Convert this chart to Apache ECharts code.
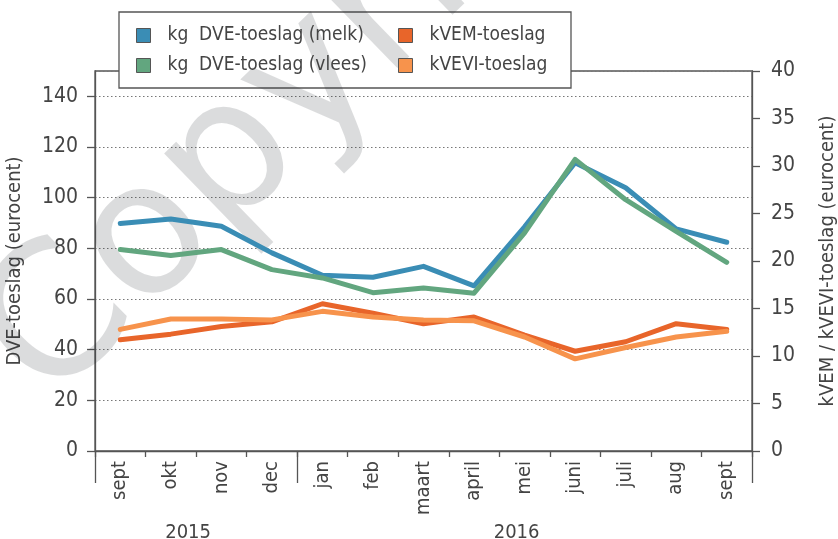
<!DOCTYPE html>
<html>
<head>
<meta charset="utf-8">
<script src="https://cdn.jsdelivr.net/npm/echarts@6/dist/echarts.min.js"></script>
<style>
  html, body { margin: 0; padding: 0; background: #fff; }
  #chart { width: 838px; height: 539px; }
</style>
</head>
<body>
<div id="chart"></div>
<script>
// maanden sept 2015 - sept 2016
var months = ['sept', 'okt', 'nov', 'dec', 'jan', 'feb', 'maart', 'april', 'mei', 'juni', 'juli', 'aug', 'sept'];
var years = ['2015', '2016'];
var yearStart = [0, 4, 13];   // index waar een jaar begint (laatste = einde)

var dveMelk  = [89.8, 91.6, 88.7, 78.2, 69.4, 68.6, 72.9, 65.2, 88.5, 113.8, 103.9, 87.7, 82.4];
var dveVlees = [79.5, 77.2, 79.5, 71.6, 68.3, 62.5, 64.3, 62.3, 86.1, 115.1, 99.2, 86.7, 74.5];
var kvem     = [11.7, 12.3, 13.1, 13.6, 15.5, 14.5, 13.4, 14.1, 12.2, 10.5, 11.5, 13.4, 12.8];
var kvevi    = [12.8, 13.9, 13.9, 13.8, 14.7, 14.1, 13.8, 13.7, 12.0, 9.7, 10.9, 12.0, 12.6];

var names = ['kg  DVE-toeslag (melk)', 'kg  DVE-toeslag (vlees)', 'kVEM-toeslag', 'kVEVI-toeslag'];
var colors = ['#3a8db5', '#62a67f', '#e8652a', '#f7934c'];

var font = "'Liberation Sans Narrow', 'DejaVu Sans Condensed', Roboto, sans-serif";
var txt = '#444';
var axisCol = '#555';

var yearMid = [];
for (var i = 0; i < years.length; i++) {
  yearMid.push((yearStart[i] + yearStart[i + 1]) / 2);
}

function line(name, data, color, yIdx) {
  return {
    name: name,
    type: 'line',
    data: data,
    yAxisIndex: yIdx,
    symbol: 'none',
    color: color,
    lineStyle: { width: 5, color: color, cap: 'round', join: 'round' }
  };
}

var chart = echarts.init(document.getElementById('chart'));

var legendBase = {
  orient: 'vertical',
  top: 21,
  icon: 'rect',
  itemWidth: 14,
  itemHeight: 14,
  itemGap: 11,
  itemStyle: { borderColor: axisCol, borderWidth: 1 },
  textStyle: { fontFamily: font, fontSize: 19, color: txt, padding: [0, 0, 0, 12] },
  z: 4
};

var option = {
  animation: false,
  textStyle: { fontFamily: font },
  grid: {
    left: 95, right: 86, top: 71, bottom: 88,
    outerBoundsMode: 'none', containLabel: false,
    show: true, borderColor: axisCol, borderWidth: 1.3, backgroundColor: 'transparent'
  },
  legend: [
    Object.assign({}, legendBase, { left: 131, data: [names[0], names[1]] }),
    Object.assign({}, legendBase, { left: 393, data: [names[2], names[3]] })
  ],
  graphic: [
    {
      type: 'rect', z: 1,
      shape: { x: 119, y: 12, width: 452, height: 76 },
      style: { fill: '#fff', stroke: axisCol, lineWidth: 1.3 }
    },
    {
      type: 'text', z: 1,
      x: 15, y: 372, rotation: 0.77,
      style: {
        text: 'Copyright', fontSize: 185, fontFamily: 'DejaVu Sans',
        fill: 'rgba(30,35,45,0.16)', align: 'left', verticalAlign: 'middle'
      }
    }
  ],
  xAxis: [
    {
      type: 'category',
      data: months,
      boundaryGap: true,
      axisLine: { onZero: false, lineStyle: { color: axisCol, width: 1.3 } },
      axisTick: { show: true, length: 6, interval: 0, lineStyle: { color: axisCol, width: 1.3 } },
      axisLabel: { rotate: 90, margin: 10, interval: 0, fontSize: 20, color: txt, fontFamily: font },
      splitLine: { show: false }
    },
    {
      type: 'value',
      min: 0, max: months.length,
      position: 'bottom',
      axisLine: { show: false, onZero: false },
      axisTick: { show: true, customValues: yearStart, length: 32, lineStyle: { color: axisCol, width: 1.3 } },
      axisLabel: {
        customValues: yearMid, margin: 72, fontSize: 20, color: txt, fontFamily: font,
        padding: [0, 16, 0, 0],
        formatter: function (v) {
          for (var k = 0; k < years.length; k++) {
            if (v >= yearStart[k] && v < yearStart[k + 1]) return years[k];
          }
          return '';
        }
      },
      splitLine: { show: false }
    }
  ],
  yAxis: [
    {
      type: 'value',
      min: 0, max: 150, interval: 20,
      position: 'left',
      name: 'DVE-toeslag (eurocent)',
      nameLocation: 'middle',
      nameRotate: 90,
      nameGap: 70,
      nameTextStyle: { fontSize: 20, color: txt, fontFamily: font },
      axisLine: { show: true, onZero: false, lineStyle: { color: axisCol, width: 1.3 } },
      axisTick: { show: true, length: 8, lineStyle: { color: axisCol, width: 1.3 } },
      axisLabel: { showMaxLabel: false, margin: 17, fontSize: 21, color: txt, fontFamily: font },
      splitLine: { show: true, lineStyle: { color: '#777', type: [1.5, 2.5], width: 1 } }
    },
    {
      type: 'value',
      min: 0, max: 40, interval: 5,
      position: 'right',
      name: 'kVEM / kVEVI-toeslag (eurocent)',
      nameLocation: 'middle',
      nameRotate: 90,
      nameGap: 66,
      nameTextStyle: { fontSize: 20, color: txt, fontFamily: font },
      axisLine: { show: true, onZero: false, lineStyle: { color: axisCol, width: 1.3 } },
      axisTick: { show: true, length: 8, lineStyle: { color: axisCol, width: 1.3 } },
      axisLabel: { margin: 19, fontSize: 21, color: txt, fontFamily: font },
      splitLine: { show: false }
    }
  ],
  series: [
    line(names[0], dveMelk, colors[0], 0),
    line(names[1], dveVlees, colors[1], 0),
    line(names[2], kvem, colors[2], 1),
    line(names[3], kvevi, colors[3], 1)
  ]
};

chart.setOption(option);
</script>
</body>
</html>
